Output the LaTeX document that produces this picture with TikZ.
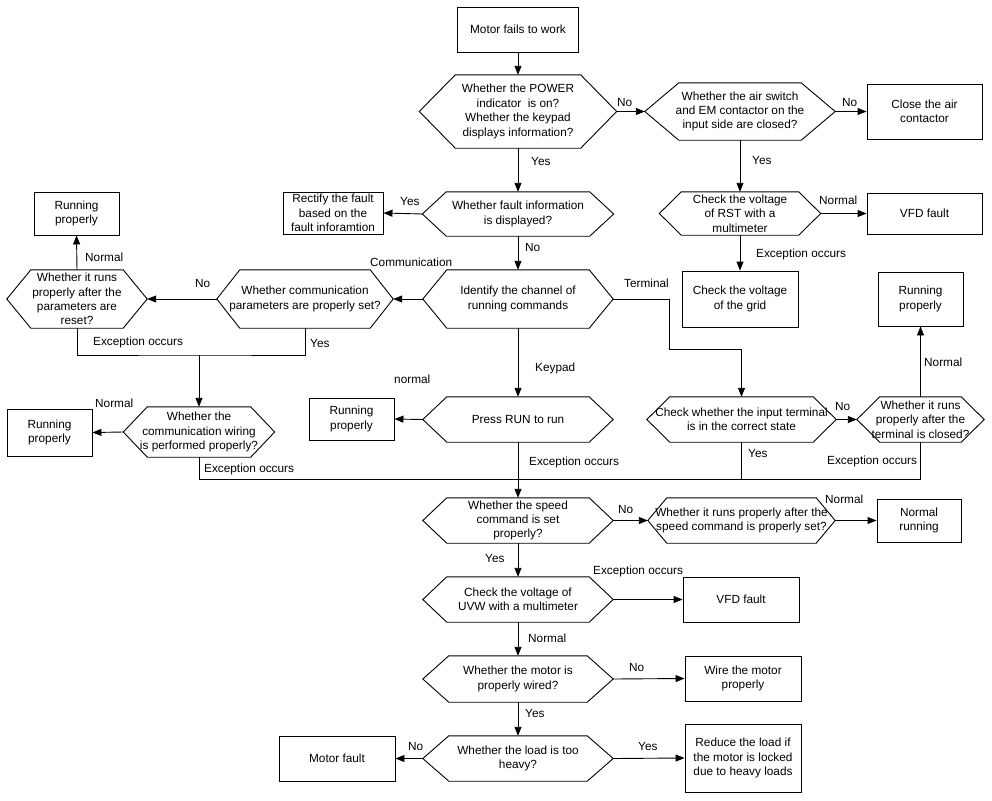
\documentclass[tikz,border=0pt]{standalone}
\usepackage{fontspec}
\setmainfont{Liberation Sans}
\usetikzlibrary{arrows.meta}
\tikzset{
  ln/.style={line width=0.9pt, draw=black},
  arr/.style={ln, -{Triangle[length=9pt,width=7pt]}},
  box/.style={ln, rectangle, inner sep=0pt, align=center},
  hexbox/.style={rectangle, inner sep=0pt, draw=none},
  txt/.style={inner sep=0pt, align=center},
  lbl/.style={anchor=west, inner sep=0pt}
}
\newcommand\hexnode[7]{%
  \node[hexbox, minimum width=#4pt, minimum height=#5pt] (#1) at (#2,#3) {};
  \node[txt] (#1-t) at (#1) {#7};
  \draw[ln] (#1.west) -- ([xshift=#6pt]#1.north west) -- ([xshift=-#6pt]#1.north east)
    -- (#1.east) -- ([xshift=-#6pt]#1.south east) -- ([xshift=#6pt]#1.south west) -- cycle;
}
\begin{document}
\begin{tikzpicture}[x=1pt, y=-1pt, font=\fontsize{11.8}{14.4}\selectfont]
\useasboundingbox (0,0) rectangle (992,800);

% boxes
\node[box, minimum width=121pt, minimum height=45pt] (start) at (518,29.5) {Motor fails to work};
\node[box, minimum width=115pt, minimum height=55pt] (close) at (924.5,111.5) {Close the air\\contactor};
\node[box, minimum width=115pt, minimum height=41pt] (vfda) at (924.5,213.5) {VFD fault};
\node[box, minimum width=100pt, minimum height=42pt] (rect) at (333,213) {Rectify the fault\\based on the\\fault inforamtion};
\node[box, minimum width=85pt, minimum height=43pt] (rpa) at (76.5,213.5) {Running\\properly};
\node[box, minimum width=85pt, minimum height=47pt] (rpb) at (49.5,432.5) {Running\\properly};
\node[box, minimum width=85pt, minimum height=42pt] (rpc) at (351.5,419) {Running\\properly};
\node[box, minimum width=116pt, minimum height=56pt] (grid) at (740,299) {Check the voltage\\of the grid};
\node[box, minimum width=85pt, minimum height=54pt] (rpd) at (920.5,299) {Running\\properly};
\node[box, minimum width=84pt, minimum height=43pt] (nr) at (919,520.5) {Normal\\running};
\node[box, minimum width=116pt, minimum height=45pt] (vfdb) at (741,599.5) {VFD fault};
\node[box, minimum width=116pt, minimum height=45pt] (wire) at (743,678.5) {Wire the motor\\properly};
\node[box, minimum width=116pt, minimum height=45pt] (mf) at (337,758.5) {Motor fault};
\node[box, minimum width=116pt, minimum height=68pt] (reduce) at (743,758) {Reduce the load if\\the motor is locked\\due to heavy loads};

% hexagons
\hexnode{hpow}{518}{111.5}{197}{73}{36}{Whether the POWER\\indicator~ is on?\\Whether the keypad\\displays information?}
\hexnode{hair}{740}{111.5}{190}{57}{34}{Whether the air switch\\and EM contactor on the\\input side are closed?}
\hexnode{hrst}{740}{213.5}{161}{43}{22}{Check the voltage\\of RST with a\\multimeter}
\hexnode{hfault}{518}{214}{191}{44}{24}{Whether fault information\\is displayed?}
\hexnode{hid}{518}{299}{190}{58}{24}{Identify the channel of\\running commands}
\hexnode{hcp}{305}{299}{176}{58}{23}{Whether communication\\parameters are properly set?}
\hexnode{hrs}{77}{299}{140}{58}{24}{Whether it runs\\properly after the\\parameters are\\reset?}
\hexnode{hcw}{199}{432}{151}{50}{24}{Whether the\\communication wiring\\is performed properly?}
\hexnode{hrun}{518}{419.5}{190}{45}{24}{Press RUN to run}
\hexnode{hit}{741.5}{419.5}{189}{45}{23}{Check whether the input terminal\\is in the correct state}
\hexnode{htc}{920.5}{419.5}{127}{45}{23}{Whether it runs\\properly after the\\terminal is closed?}
\hexnode{hsp}{518}{520.5}{190}{45}{24}{Whether the speed\\command is set\\properly?}
\hexnode{hss}{741.5}{520.5}{187}{45}{19}{Whether it runs properly after the\\speed command is properly set?}
\hexnode{huvw}{518}{599.5}{190}{45}{24}{Check the voltage of\\UVW with a multimeter}
\hexnode{hmw}{518}{679}{190}{46}{26}{Whether the motor is\\properly wired?}
\hexnode{hload}{518}{758.5}{190}{45}{26}{Whether the load is too\\heavy?}

% junction coordinates
\coordinate (ja) at (199,355);
\coordinate (jb) at (518,479);
\coordinate (jt) at (669,349);

% connectors
\draw[arr] (start) -- (hpow);
\draw[arr] (hpow.east) -- (hair.west);
\draw[arr] (hair.east) -- (close.west);
\draw[arr] (hair.south) -- (hrst.north);
\draw[arr] (hrst.east) -- (vfda.west);
\draw[arr] (hrst.south) -- (grid.north);
\draw[arr] (hpow.south) -- (hfault.north);
\draw[arr] (hfault.west) -- (rect.east);
\draw[arr] (hfault.south) -- (hid.north);
\draw[arr] (hid.west) -- (hcp.east);
\draw[arr] (hcp.west) -- (hrs.east);
\draw[arr] (hrs.north) -- (rpa.south);
\draw[ln] (hrs.south) |- (ja) -| (hcp.south);
\draw[arr] (ja) -- (hcw.north);
\draw[arr] (hcw.west) -- (rpb.east);
\draw[ln] (hcw.south) |- (jb);
\draw[arr] (hid.south) -- (hrun.north);
\draw[arr] (hrun.west) -- (rpc.east);
\draw[arr] (hid.east) -| (jt) -| (hit.north);
\draw[arr] (hit.east) -- (htc.west);
\draw[arr] (htc.north) -- (rpd.south);
\draw[ln] (hit.south) -- (hit.south |- jb);
\draw[ln] (htc.south) |- (jb);
\draw[arr] (hrun.south) -- (hsp.north);
\draw[arr] (hsp.east) -- (hss.west);
\draw[arr] (hss.east) -- (nr.west);
\draw[arr] (hsp.south) -- (huvw.north);
\draw[arr] (huvw.east) -- (vfdb.west);
\draw[arr] (huvw.south) -- (hmw.north);
\draw[arr] (hmw.east) -- (wire.west);
\draw[arr] (hmw.south) -- (hload.north);
\draw[arr] (hload.west) -- (mf.east);
\draw[arr] (hload.east) -- (reduce.west);

% labels
\node[lbl] (l1) at (531,161) {Yes};
\node[lbl] (l2) at (617,102) {No};
\node[lbl] (l3) at (842,102) {No};
\node[lbl] (l4) at (752,160) {Yes};
\node[lbl] (l5) at (819,200) {Normal};
\node[lbl] (l6) at (400,201) {Yes};
\node[lbl] (l7) at (525,247) {No};
\node[lbl] (l8) at (370,262) {Communication};
\node[lbl] (l9) at (195,283) {No};
\node[lbl] (l10) at (85,257) {Normal};
\node[lbl] (l11) at (93,342) {Exception occurs};
\node[lbl] (l12) at (310,343) {Yes};
\node[lbl] (l13) at (95,403) {Normal};
\node[lbl] (l14) at (204,469) {Exception occurs};
\node[lbl] (l15) at (394,379) {normal};
\node[lbl] (l16) at (535,368) {Keypad};
\node[lbl] (l17) at (624,283) {Terminal};
\node[lbl] (l18) at (756,254) {Exception occurs};
\node[lbl] (l19) at (835,406) {No};
\node[lbl] (l20) at (924,362) {Normal};
\node[lbl] (l21) at (748,453) {Yes};
\node[lbl] (l22) at (827,461) {Exception occurs};
\node[lbl] (l23) at (529,462) {Exception occurs};
\node[lbl] (l24) at (618,509) {No};
\node[lbl] (l25) at (825,499) {Normal};
\node[lbl] (l26) at (485,558) {Yes};
\node[lbl] (l27) at (593,571) {Exception occurs};
\node[lbl] (l28) at (528,638) {Normal};
\node[lbl] (l29) at (629,667) {No};
\node[lbl] (l30) at (525,713) {Yes};
\node[lbl] (l31) at (408,746) {No};
\node[lbl] (l32) at (638,746) {Yes};
\end{tikzpicture}
\end{document}
